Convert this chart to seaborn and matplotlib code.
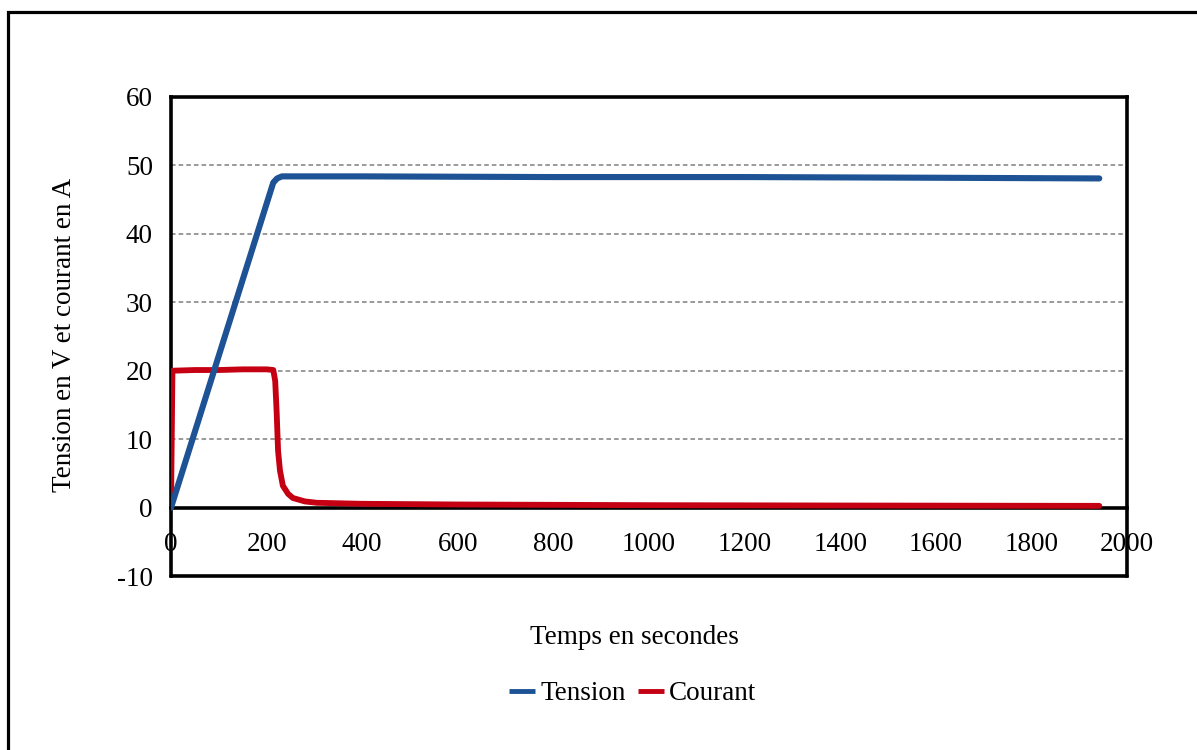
import numpy as np
import pandas as pd
import matplotlib
matplotlib.use('Agg')
import matplotlib.pyplot as plt
import seaborn as sns
from matplotlib.patches import Rectangle

# Values
tension_t = [0, 50, 100, 150, 200, 214, 222, 232, 260, 400, 800, 1200, 1600, 1942]
tension_v = [0.0, 11.1, 22.2, 33.3, 44.4, 47.5, 48.1, 48.4, 48.4, 48.4, 48.3, 48.3, 48.2, 48.1]

courant_t = [0, 3, 50, 100, 150, 200, 214, 218, 221, 224, 228, 234, 245, 255, 280, 305,
             400, 600, 1000, 1400, 1942]
courant_v = [0.0, 20.0, 20.1, 20.1, 20.2, 20.2, 20.1, 18.5, 14.0, 8.3, 5.4, 3.2, 2.0, 1.4,
             0.9, 0.7, 0.55, 0.45, 0.35, 0.3, 0.25]

y_ticks = [-10, 0, 10, 20, 30, 40, 50, 60]
x_ticks = [0, 200, 400, 600, 800, 1000, 1200, 1400, 1600, 1800, 2000]

sns.set_style('white')
plt.rcParams['font.family'] = ['Liberation Serif', 'DejaVu Serif']
plt.rcParams['axes.unicode_minus'] = False
plt.rcParams['text.color'] = 'black'

fig = plt.figure(figsize=(11.97, 7.5), dpi=100)
ax = fig.add_axes([171/1197, 1 - 576/750, 956/1197, 479/750])

blue = '#1d5394'
red = '#c40012'

sns.lineplot(x=courant_t, y=courant_v, ax=ax, color=red, lw=4.2, label='Courant', zorder=3)
sns.lineplot(x=tension_t, y=tension_v, ax=ax, color=blue, lw=4.4, label='Tension', zorder=4)

ax.set_xlim(0, 2000)
ax.set_ylim(-10, 60)
ax.set_xticks(x_ticks)
ax.set_yticks(y_ticks)
ax.tick_params(labelsize=19.5, width=2.5, length=7.5, direction='out',
               colors='black', labelcolor='black')
ax.tick_params(axis='x', pad=10)
ax.tick_params(axis='y', pad=5.5)
ax.set_xlabel('')
ax.set_ylabel('')

# dashed grid lines
for y in [10, 20, 30, 40, 50]:
    ax.axhline(y, color='#7f7f7f', lw=1.1, ls=(0, (3, 2)), zorder=1)

for s in ax.spines.values():
    s.set_linewidth(2.6)
    s.set_color('black')
    s.set_visible(True)
ax.spines['bottom'].set_position(('data', 0))
ax.axhline(-10, color='black', lw=2.6, clip_on=False, zorder=5)

fig.text(65/1197, 1 - 335/750, 'Tension en V et courant en A', rotation=90,
         ha='center', va='center', fontsize=19.5, color='black')
fig.text(634/1197, 1 - 644/750, 'Temps en secondes', ha='center', va='baseline',
         fontsize=19.5, color='black')

handles, labels = ax.get_legend_handles_labels()
ax.get_legend().remove()
order = [labels.index('Tension'), labels.index('Courant')]
leg = fig.legend([handles[i] for i in order], [labels[i] for i in order],
                 loc='center', bbox_to_anchor=(633/1197, 1 - 694/750), ncol=2,
                 frameon=False, fontsize=19.5, handlelength=0.95, handletextpad=0.2,
                 columnspacing=0.45)
for line in leg.get_lines():
    line.set_solid_capstyle('butt')
    line.set_linewidth(3.5)
for txt in leg.get_texts():
    txt.set_color('black')

# outer frame (right and bottom edges fall outside the image)
fig.patches.append(Rectangle((8.3/1197, -0.2), 1.2, 1.2 - 11.7/750,
                             transform=fig.transFigure, fill=False,
                             edgecolor='black', lw=2.3))

fig.savefig('out.png', dpi=100)
